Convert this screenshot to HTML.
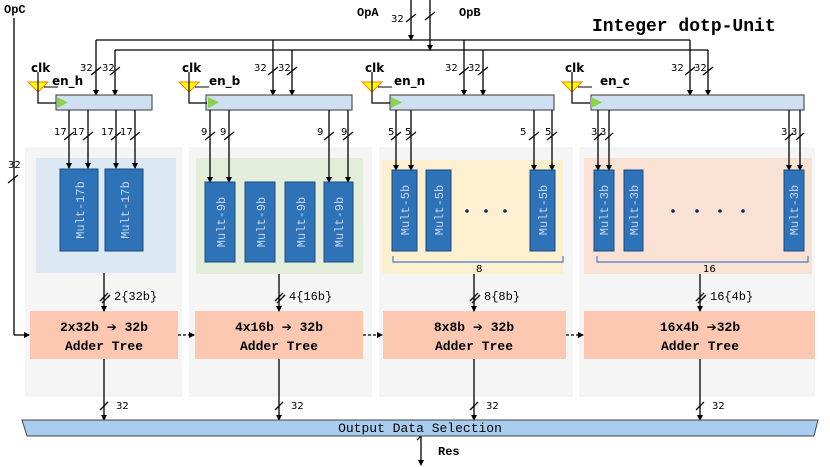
<!DOCTYPE html>
<html><head><meta charset="utf-8"><style>
html,body{margin:0;padding:0;background:#fff;}
svg{display:block;}
.m{font-family:"Liberation Mono",monospace;}
.s{font-family:"DejaVu Sans","Liberation Sans",sans-serif;}
.ar{font-family:"DejaVu Sans",sans-serif;font-size:12px;}
</style></head><body>
<svg width="830" height="467" viewBox="0 0 830 467" xmlns="http://www.w3.org/2000/svg">
<defs>
<marker id="a" markerWidth="6" markerHeight="6" refX="5" refY="3" orient="auto" markerUnits="userSpaceOnUse">
<path d="M0,0 L6,3 L0,6 z" fill="#000"/></marker>
</defs>
<rect x="25" y="147" width="157" height="250" fill="#f5f5f5"/>
<rect x="189" y="147" width="183" height="250" fill="#f5f5f5"/>
<rect x="379" y="147" width="194" height="250" fill="#f5f5f5"/>
<rect x="579" y="147" width="236" height="250" fill="#f5f5f5"/>
<rect x="36" y="158" width="140" height="115" fill="#dce8f4"/>
<rect x="196" y="158" width="167" height="116" fill="#e2eed9"/>
<rect x="382" y="160" width="181" height="114" fill="#fdf0d0"/>
<rect x="584" y="158" width="228" height="116" fill="#f9e1d4"/>
<text x="592" y="31" class="m" font-size="18" font-weight="bold">Integer dotp-Unit</text>
<text x="4" y="13" class="m" font-size="12" font-weight="bold">OpC</text>
<text x="357" y="16" class="m" font-size="12" font-weight="bold">OpA</text>
<text x="459" y="16" class="m" font-size="12" font-weight="bold">OpB</text>
<g stroke="#000" stroke-width="1.3" fill="none">
<line x1="14" y1="18" x2="14" y2="335"/>
<line x1="14" y1="335" x2="29" y2="335" marker-end="url(#a)"/>
<line x1="411" y1="0" x2="411" y2="40" marker-end="url(#a)"/>
<line x1="430" y1="0" x2="430" y2="50" marker-end="url(#a)"/>
<line x1="96" y1="40" x2="690" y2="40"/>
<line x1="115" y1="50" x2="708" y2="50"/>
<line x1="96" y1="40" x2="96" y2="95" marker-end="url(#a)"/>
<line x1="115" y1="50" x2="115" y2="95" marker-end="url(#a)"/>
<line x1="273" y1="40" x2="273" y2="95" marker-end="url(#a)"/>
<line x1="292" y1="50" x2="292" y2="95" marker-end="url(#a)"/>
<line x1="464" y1="40" x2="464" y2="95" marker-end="url(#a)"/>
<line x1="483" y1="50" x2="483" y2="95" marker-end="url(#a)"/>
<line x1="690" y1="40" x2="690" y2="95" marker-end="url(#a)"/>
<line x1="708" y1="50" x2="708" y2="95" marker-end="url(#a)"/>
</g>
<g stroke="#000" stroke-width="1.2">
<line x1="8" y1="183" x2="18" y2="175"/>
<line x1="406" y1="22" x2="416" y2="14"/>
<line x1="425" y1="20" x2="435" y2="12"/>
<line x1="91" y1="75" x2="101" y2="67"/><line x1="110" y1="75" x2="120" y2="67"/>
<line x1="268" y1="75" x2="278" y2="67"/><line x1="287" y1="75" x2="297" y2="67"/>
<line x1="459" y1="75" x2="469" y2="67"/><line x1="478" y1="75" x2="488" y2="67"/>
<line x1="685" y1="75" x2="695" y2="67"/><line x1="703" y1="75" x2="713" y2="67"/>
</g>
<g class="s" font-size="10">
<text x="8" y="168">32</text>
<text x="391" y="22">32</text>
<text x="80" y="71">32</text><text x="102" y="71">32</text>
<text x="254" y="71">32</text><text x="278" y="71">32</text>
<text x="445" y="71">32</text><text x="468" y="71">32</text>
<text x="671" y="71">32</text><text x="694" y="71">32</text>
</g>
<g>
<rect x="56" y="95" width="96" height="15" fill="#cddff0" stroke="#555" stroke-width="1.2"/>
<rect x="206" y="95" width="146" height="15" fill="#cddff0" stroke="#555" stroke-width="1.2"/>
<rect x="390" y="95" width="164" height="15" fill="#cddff0" stroke="#555" stroke-width="1.2"/>
<rect x="591" y="95" width="213" height="15" fill="#cddff0" stroke="#555" stroke-width="1.2"/>
</g>
<g id="clk1">
<path d="M28,82 L48,82 L38,92 z" fill="#ffff00" stroke="#ff7f00" stroke-width="1"/>
<polyline points="38,72 38,103 56,103" fill="none" stroke="#000" stroke-width="1.2"/>
<line x1="44" y1="87" x2="58" y2="87" stroke="#000"/>
<path d="M57,97 L68,102.5 L57,108 z" fill="#8bd14a"/>
</g>
<use href="#clk1" x="151"/>
<use href="#clk1" x="334"/>
<use href="#clk1" x="534"/>
<g class="s" font-size="12" font-weight="bold">
<text x="31" y="72">clk</text><text x="52" y="85">en_h</text>
<text x="182" y="72">clk</text><text x="209" y="85">en_b</text>
<text x="365" y="72">clk</text><text x="394" y="85">en_n</text>
<text x="565" y="72">clk</text><text x="600" y="85">en_c</text>
</g>
<g stroke="#000" stroke-width="1.3">
<line x1="69" y1="110" x2="69" y2="168" marker-end="url(#a)"/><line x1="88" y1="110" x2="88" y2="168" marker-end="url(#a)"/>
<line x1="116" y1="110" x2="116" y2="168" marker-end="url(#a)"/><line x1="135" y1="110" x2="135" y2="168" marker-end="url(#a)"/>
<line x1="210" y1="110" x2="210" y2="182" marker-end="url(#a)"/><line x1="229" y1="110" x2="229" y2="182" marker-end="url(#a)"/>
<line x1="329" y1="110" x2="329" y2="182" marker-end="url(#a)"/><line x1="348" y1="110" x2="348" y2="182" marker-end="url(#a)"/>
<line x1="396" y1="110" x2="396" y2="170" marker-end="url(#a)"/><line x1="411" y1="110" x2="411" y2="170" marker-end="url(#a)"/>
<line x1="534" y1="110" x2="534" y2="170" marker-end="url(#a)"/><line x1="552" y1="110" x2="552" y2="170" marker-end="url(#a)"/>
<line x1="598" y1="110" x2="598" y2="170" marker-end="url(#a)"/><line x1="609" y1="110" x2="609" y2="170" marker-end="url(#a)"/>
<line x1="789" y1="110" x2="789" y2="170" marker-end="url(#a)"/><line x1="800" y1="110" x2="800" y2="170" marker-end="url(#a)"/>
</g>
<g stroke="#000" stroke-width="1.2">
<path d="M64,140 l10,-8 M83,140 l10,-8 M111,140 l10,-8 M130,140 l10,-8 M205,140 l10,-8 M224,140 l10,-8 M324,140 l10,-8 M343,140 l10,-8 M391,140 l10,-8 M406,140 l10,-8 M529,140 l10,-8 M547,140 l10,-8 M594,140 l8,-7 M605,140 l8,-7 M785,140 l8,-7 M796,140 l8,-7"/>
</g>
<g class="s" font-size="10">
<text x="54" y="135">17</text><text x="72" y="135">17</text><text x="101" y="135">17</text><text x="120" y="135">17</text>
<text x="201" y="135">9</text><text x="220" y="135">9</text><text x="317" y="135">9</text><text x="341" y="135">9</text>
<text x="388" y="135">5</text><text x="405" y="135">5</text><text x="520" y="135">5</text><text x="545" y="135">5</text>
<text x="591" y="135">3</text><text x="600" y="135">3</text><text x="781" y="135">3</text><text x="791" y="135">3</text>
</g>
<g fill="#2e72b8" stroke="#1a4a80" stroke-width="1">
<rect x="60" y="169" width="38" height="82"/><rect x="105" y="169" width="38" height="82"/>
<rect x="205" y="182" width="30" height="80"/><rect x="245" y="182" width="30" height="80"/><rect x="285" y="182" width="30" height="80"/><rect x="324" y="182" width="29" height="80"/>
<rect x="392" y="170" width="25" height="81"/><rect x="426" y="170" width="25" height="81"/><rect x="530" y="170" width="25" height="81"/>
<rect x="594" y="170" width="20" height="81"/><rect x="624" y="170" width="19" height="81"/><rect x="784" y="170" width="20" height="81"/>
</g>
<g class="m" font-size="12" fill="#c8d8ee">
<text transform="translate(84,210) rotate(-90)" text-anchor="middle">Mult-17b</text>
<text transform="translate(129,210) rotate(-90)" text-anchor="middle">Mult-17b</text>
<text transform="translate(225,222) rotate(-90)" text-anchor="middle">Mult-9b</text>
<text transform="translate(265,222) rotate(-90)" text-anchor="middle">Mult-9b</text>
<text transform="translate(305,222) rotate(-90)" text-anchor="middle">Mult-9b</text>
<text transform="translate(343,222) rotate(-90)" text-anchor="middle">Mult-9b</text>
<text transform="translate(409,210) rotate(-90)" text-anchor="middle">Mult-5b</text>
<text transform="translate(443,210) rotate(-90)" text-anchor="middle">Mult-5b</text>
<text transform="translate(547,210) rotate(-90)" text-anchor="middle">Mult-5b</text>
<text transform="translate(608,210) rotate(-90)" text-anchor="middle">Mult-3b</text>
<text transform="translate(638,210) rotate(-90)" text-anchor="middle">Mult-3b</text>
<text transform="translate(798,210) rotate(-90)" text-anchor="middle">Mult-3b</text>
</g>
<g fill="#0b2a5a">
<circle cx="467" cy="211" r="1.8"/><circle cx="486" cy="211" r="1.8"/><circle cx="505" cy="211" r="1.8"/>
<circle cx="673" cy="211" r="1.8"/><circle cx="697" cy="211" r="1.8"/><circle cx="720" cy="211" r="1.8"/><circle cx="743" cy="211" r="1.8"/>
</g>
<g fill="none" stroke="#4a7cc8" stroke-width="1.2">
<path d="M393,256 v6 h170 v-6"/><path d="M597,256 v6 h211 v-6"/>
</g>
<g class="s" font-size="10"><text x="476" y="272">8</text><text x="703" y="272">16</text></g>
<g fill="#fcc8b2">
<rect x="30" y="311" width="148" height="48"/><rect x="195" y="311" width="168" height="48"/>
<rect x="383" y="311" width="183" height="48"/><rect x="584" y="311" width="231" height="48"/>
</g>
<g class="m" font-size="13" font-weight="bold" text-anchor="middle">
<text x="104" y="331">2x32b <tspan class="ar">➔</tspan> 32b</text><text x="104" y="350">Adder Tree</text>
<text x="279" y="331">4x16b <tspan class="ar">➔</tspan> 32b</text><text x="279" y="350">Adder Tree</text>
<text x="474" y="331">8x8b <tspan class="ar">➔</tspan> 32b</text><text x="474" y="350">Adder Tree</text>
<text x="700" y="331">16x4b <tspan class="ar">➔</tspan>32b</text><text x="700" y="350">Adder Tree</text>
</g>
<g stroke="#000" stroke-width="1.3">
<line x1="104" y1="273" x2="104" y2="311" marker-end="url(#a)"/>
<line x1="279" y1="274" x2="279" y2="311" marker-end="url(#a)"/>
<line x1="474" y1="274" x2="474" y2="311" marker-end="url(#a)"/>
<line x1="700" y1="274" x2="700" y2="311" marker-end="url(#a)"/>
<line x1="104" y1="359" x2="104" y2="420" marker-end="url(#a)"/>
<line x1="279" y1="359" x2="279" y2="420" marker-end="url(#a)"/>
<line x1="474" y1="359" x2="474" y2="420" marker-end="url(#a)"/>
<line x1="700" y1="359" x2="700" y2="420" marker-end="url(#a)"/>
<path d="M100,301 l8,-8 M102,303 l8,-8 M275,301 l8,-8 M277,303 l8,-8 M470,301 l8,-8 M472,303 l8,-8 M696,301 l8,-8 M698,303 l8,-8"/>
<path d="M100,410 l8,-8 M275,410 l8,-8 M470,410 l8,-8 M696,410 l8,-8 M417,440 l8,-8" />
<line x1="421" y1="436" x2="421" y2="465" marker-end="url(#a)"/>
</g>
<g stroke="#000" stroke-width="1.3" stroke-dasharray="3,2">
<line x1="178" y1="335" x2="194" y2="335" marker-end="url(#a)"/>
<line x1="363" y1="335" x2="382" y2="335" marker-end="url(#a)"/>
<line x1="566" y1="335" x2="583" y2="335" marker-end="url(#a)"/>
</g>
<g class="m" font-size="12">
<text x="114" y="300">2{32b}</text><text x="289" y="300">4{16b}</text>
<text x="484" y="300">8{8b}</text><text x="710" y="300">16{4b}</text>
</g>
<g class="s" font-size="10">
<text x="116" y="409">32</text><text x="291" y="409">32</text><text x="486" y="409">32</text><text x="712" y="409">32</text>
</g>
<path d="M22,420 L818,420 L814,436 L27,436 z" fill="#a9cdf0" stroke="#444" stroke-width="1"/>
<text x="420" y="432" class="m" font-size="13" text-anchor="middle">Output Data Selection</text>
<text x="438" y="455" class="m" font-size="12" font-weight="bold">Res</text>
</svg>
</body></html>
